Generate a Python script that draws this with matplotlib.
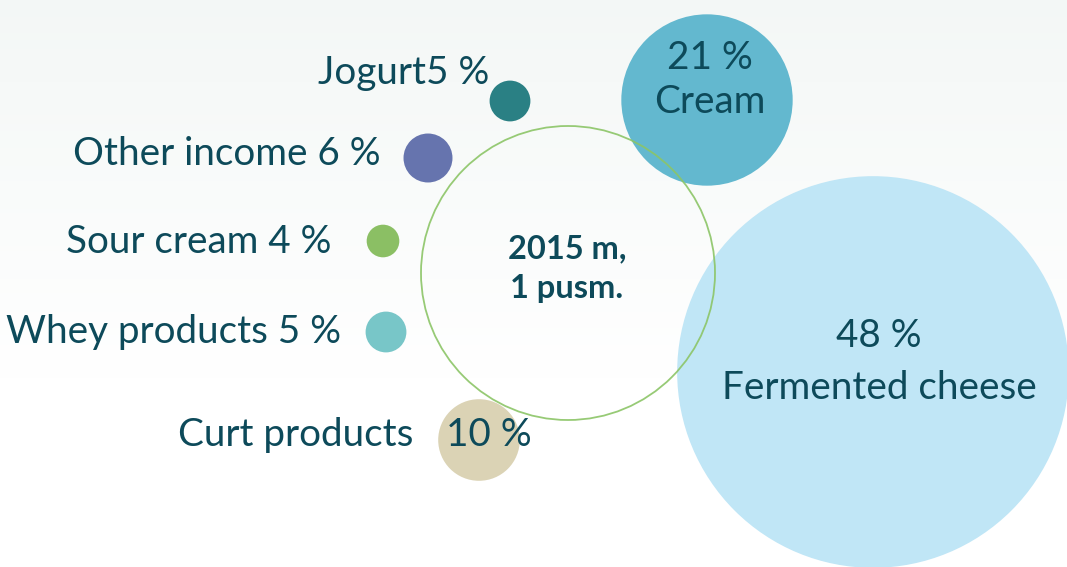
import numpy as np
import matplotlib.pyplot as plt
from matplotlib.patches import Circle

# data
categories = ['Jogurt', 'Cream', 'Other income', 'Sour cream', 'Whey products', 'Curt products', 'Fermented cheese']
shares = [5, 21, 6, 4, 5, 10, 48]
colors = ['#2a8084', '#63b8cf', '#6674ae', '#8bbf64', '#78c6c8', '#dbd3b5', '#c0e6f6']
center_label = '2015 m,\n1 pusm.'

# layout (pixel coordinates of the bubble centres)
centers = [(510, 101), (707, 100), (428, 158), (383, 241), (386, 332), (479, 440), (873, 372)]
scale = 4.08  # px of radius per percent

txt = '#0d4a5a'
font = 'Lato'

fig = plt.figure(figsize=(10.67, 5.67), dpi=100)
ax = fig.add_axes([0, 0, 1, 1])
ax.set_xlim(0, 1067)
ax.set_ylim(567, 0)
ax.axis('off')

# soft background gradient
grad = np.linspace(0, 1, 256).reshape(-1, 1)
top = np.array([0.955, 0.97, 0.965])
bottom = np.array([1.0, 1.0, 1.0])
img = top + (bottom - top) * np.clip(grad * 1.5, 0, 1)[:, :, None]
ax.imshow(img, extent=[0, 1067, 567, 0], aspect='auto', zorder=0)

for (cx, cy), s, c in zip(centers, shares, colors):
    ax.add_patch(Circle((cx, cy), s * scale, color=c, lw=0, zorder=2))

# central outline circle
ax.add_patch(Circle((568, 273), 147, fill=False, ec='#8cc567', lw=1.3, alpha=0.9, zorder=3))

fs = 27.8
ax.text(489, 73, f'{categories[0]}{shares[0]} %', ha='right', va='center', fontsize=fs, color=txt, family=font, zorder=4)
ax.text(381, 154, f'{categories[2]} {shares[2]} %', ha='right', va='center', fontsize=fs, color=txt, family=font, zorder=4)
ax.text(331, 242, f'{categories[3]} {shares[3]} %', ha='right', va='center', fontsize=fs, color=txt, family=font, zorder=4)
ax.text(341, 332, f'{categories[4]} {shares[4]} %', ha='right', va='center', fontsize=fs, color=txt, family=font, zorder=4)
ax.text(413, 435, categories[5], ha='right', va='center', fontsize=fs, color=txt, family=font, zorder=4)
ax.text(489, 435, f'{shares[5]} %', ha='center', va='center', fontsize=fs, color=txt, family=font, zorder=4)
ax.text(710, 80, f'{shares[1]} %\n{categories[1]}', ha='center', va='center', fontsize=fs, color=txt,
        family=font, linespacing=1.3, zorder=4)
ax.text(879, 362, f'{shares[6]} %\n{categories[6]}', ha='center', va='center', fontsize=fs, color=txt,
        family=font, linespacing=1.55, zorder=4)
ax.text(567, 269, center_label, ha='center', va='center', fontsize=23.5, color=txt, family=font,
        fontweight='bold', linespacing=1.45, zorder=4)

plt.savefig('out.png', dpi=100)
